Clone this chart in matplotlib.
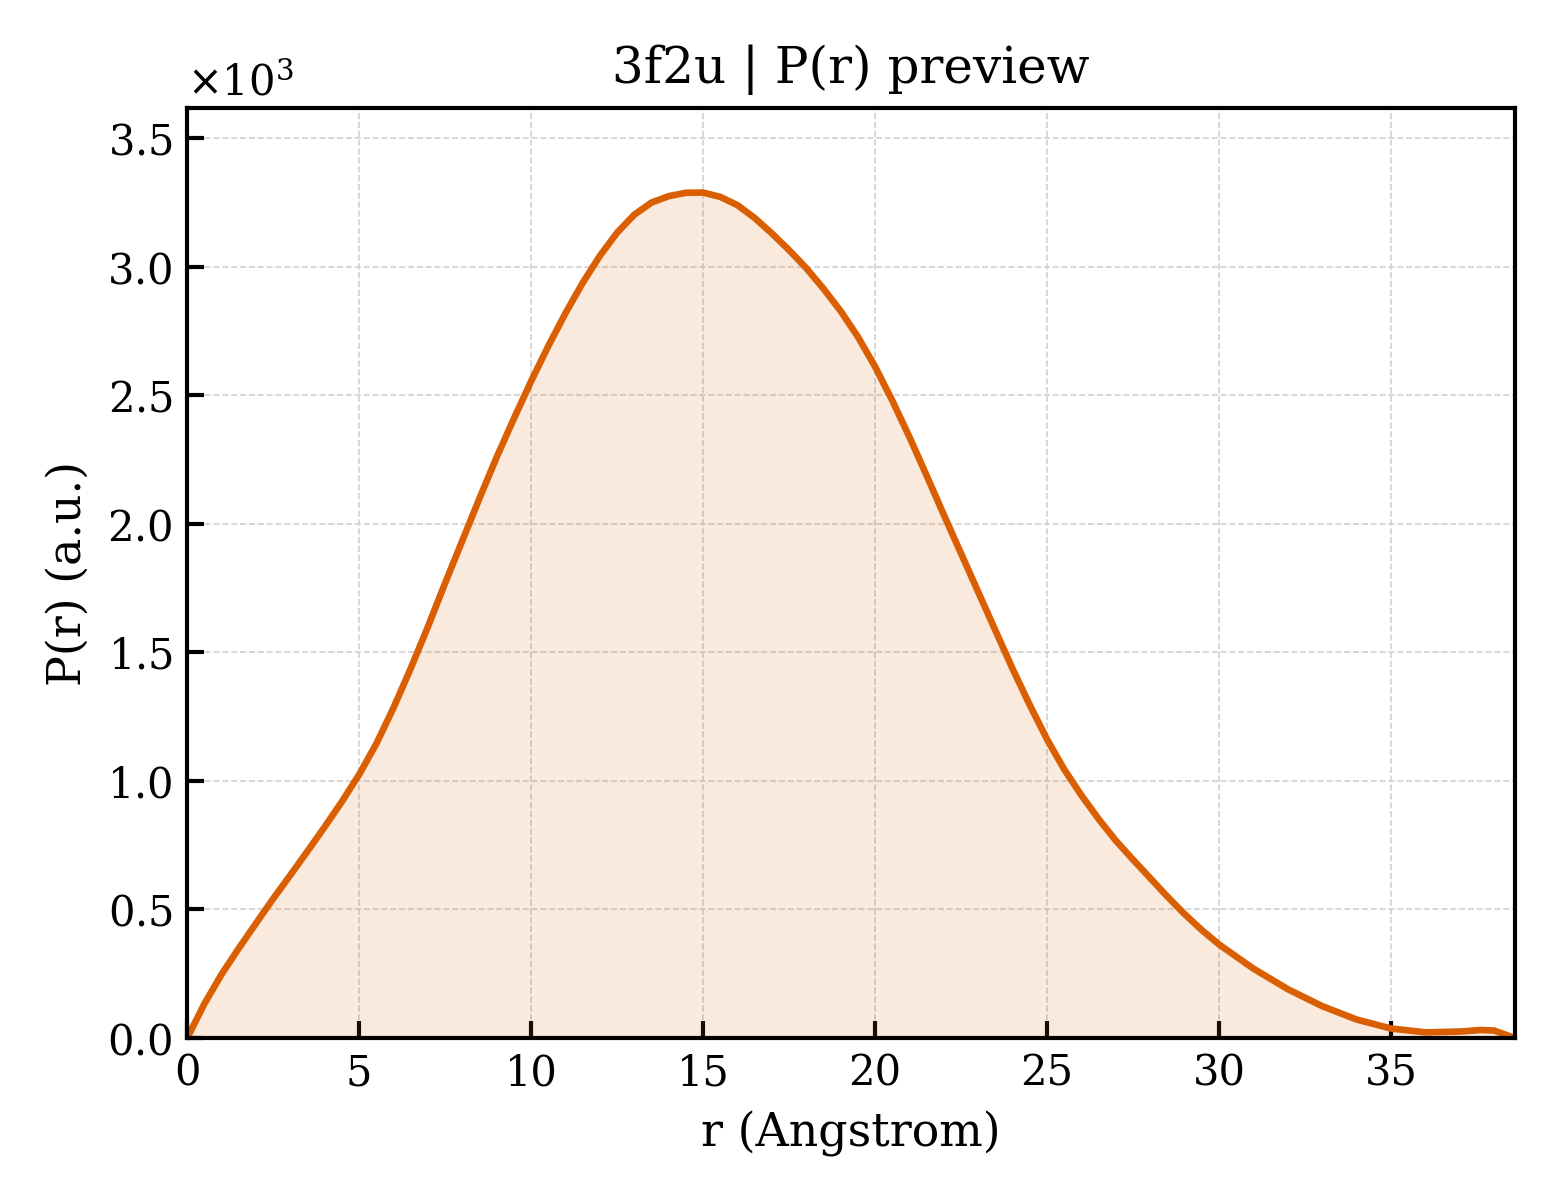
import numpy as np
import matplotlib
matplotlib.use("Agg")
import matplotlib.pyplot as plt

# P(r) (r in Angstrom, P in a.u.)
r_values = [0.0, 0.5, 1.0, 1.5, 2.0, 2.5, 3.0, 3.5, 4.0, 4.5,
            5.0, 5.5, 6.0, 6.5, 7.0, 7.5, 8.0, 8.5, 9.0, 9.5,
            10.0, 10.5, 11.0, 11.5, 12.0, 12.5, 13.0, 13.5, 14.0, 14.5,
            15.0, 15.5, 16.0, 16.5, 17.0, 17.5, 18.0, 18.5, 19.0, 19.5,
            20.0, 20.5, 21.0, 21.5, 22.0, 22.5, 23.0, 23.5, 24.0, 24.5,
            25.0, 25.5, 26.0, 26.5, 27.0, 27.5, 28.0, 28.5, 29.0, 29.5,
            30.0, 31.0, 32.0, 33.0, 34.0, 35.0, 36.0, 37.0, 37.6, 38.0,
            38.6]
p_values = [0, 133, 248, 349, 446, 542, 634, 727, 822, 920,
            1025, 1145, 1285, 1438, 1600, 1770, 1935, 2100, 2260, 2410,
            2555, 2692, 2820, 2938, 3043, 3133, 3203, 3250, 3275, 3288,
            3289, 3272, 3240, 3190, 3130, 3065, 2995, 2915, 2828, 2728,
            2612, 2480, 2338, 2188, 2035, 1885, 1735, 1585, 1436, 1295,
            1162, 1045, 944, 852, 768, 694, 622, 550, 482, 420,
            364, 270, 190, 124, 72, 37, 22, 25, 31, 29,
            0]

title = "3f2u | P(r) preview"
line_color = "#D95F02"

plt.rcParams["font.family"] = "DejaVu Serif"

fig = plt.figure(figsize=(5.2, 4), dpi=300)
ax = fig.add_axes([0.12, 0.135, 0.851, 0.775])

r = np.array(r_values)
p = np.array(p_values, dtype=float)

ax.fill_between(r, 0, p, color=line_color, alpha=0.13, linewidth=0)
ax.plot(r, p, color=line_color, linewidth=1.6)

ax.set_xlim(0, r.max())
ax.set_ylim(0, p.max() * 1.1)

ax.grid(True, linestyle="--", linewidth=0.4, color="0.82")
ax.set_axisbelow(True)

ax.ticklabel_format(axis="y", style="sci", scilimits=(0, 0), useMathText=True)
ax.tick_params(direction="in", length=4, width=1, labelsize=10)
for s in ax.spines.values():
    s.set_linewidth(1)

ax.set_xlabel("r (Angstrom)", fontsize=11)
ax.set_ylabel("P(r) (a.u.)", fontsize=11)
ax.set_title(title, fontsize=12)

fig.savefig("out.png", dpi=300)
